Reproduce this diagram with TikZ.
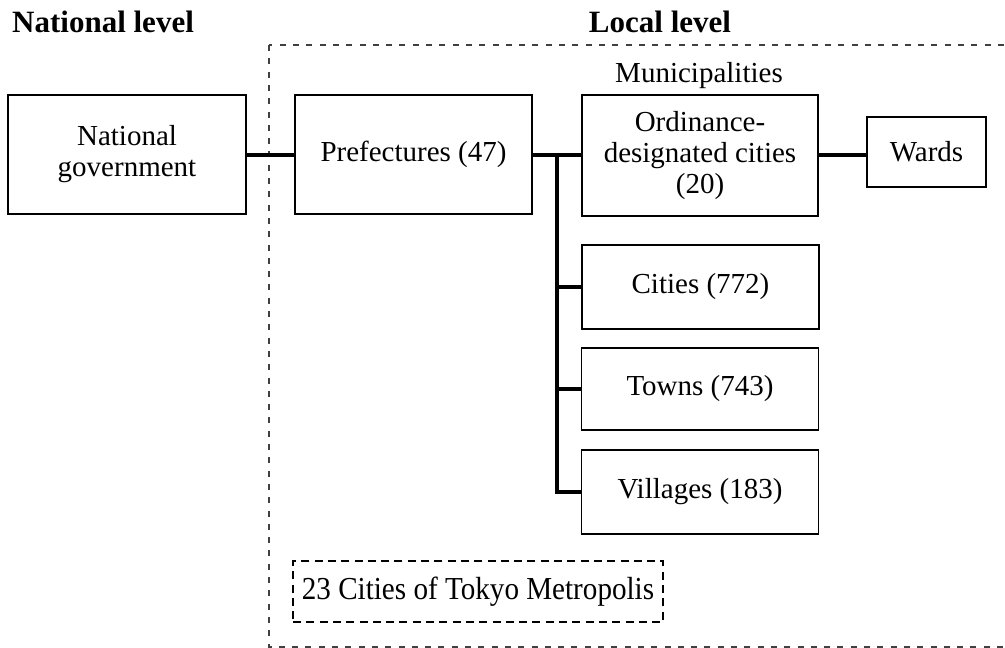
\documentclass[tikz,border=0pt]{standalone}
\usepackage{fontspec}
\setmainfont{Liberation Serif}
\begin{document}
\begin{tikzpicture}[x=1pt,y=-1pt,
  box/.style={draw,line width=1.6pt,align=center,inner sep=0pt,font=\fontsize{29}{31}\selectfont},
  conn/.style={line width=3.5pt},
  dash box/.style={draw,line width=1.8pt,dash pattern=on 8pt off 5.3pt},
  head/.style={font=\fontsize{31}{34}\selectfont\bfseries,inner sep=0pt}]
\useasboundingbox (0,0) rectangle (1005,648);
\begin{scope}
\clip (0,0) rectangle (1005,648);
\draw[line width=1.1pt,black!75,dash pattern=on 6pt off 7.3pt] (269,45) rectangle (1012,647);
\end{scope}
\node[head,anchor=base west] (nl) at (12,32) {National level};
\node[head,anchor=base] (ll) at (660,32) {Local level};
\node[anchor=base,inner sep=0pt,font=\fontsize{29}{31}\selectfont] (mun) at (699,82) {Municipalities};
\node[box,minimum width=238pt,minimum height=119pt] (ng) at (127,154.5) {National\\government};
\node[box,minimum width=237pt,minimum height=119pt] (pf) at (413.5,154.5) {Prefectures (47)};
\node[box,minimum width=236pt,minimum height=121pt] (od) at (700,155.5) {Ordinance-\\designated cities\\(20)};
\node[box,minimum width=119pt,minimum height=70pt] (wd) at (926.5,152) {Wards};
\node[box,minimum width=237pt,minimum height=84pt] (ct) at (700.5,287) {Cities (772)};
\node[box,minimum width=237pt,minimum height=82pt] (tw) at (700,389) {Towns (743)};
\node[box,minimum width=237pt,minimum height=84pt] (vl) at (700,492) {Villages (183)};
\node[dash box,minimum width=370pt,minimum height=61pt,inner sep=0pt] (tk) at (478,591.5)
  {\scalebox{0.91}[1]{\fontsize{32}{34}\selectfont 23 Cities of Tokyo Metropolis}};
\coordinate (j) at (557,155);
\draw[conn] (ng.east|-j) -- (pf.west|-j);
\draw[conn] (pf.east|-j) -- (od.west|-j);
\draw[conn] (od.east|-j) -- (wd.west|-j);
\draw[conn] (j) -- (j|-vl.west) -- (vl.west);
\draw[conn] (j|-ct.west) -- (ct.west);
\draw[conn] (j|-tw.west) -- (tw.west);
\end{tikzpicture}
\end{document}
